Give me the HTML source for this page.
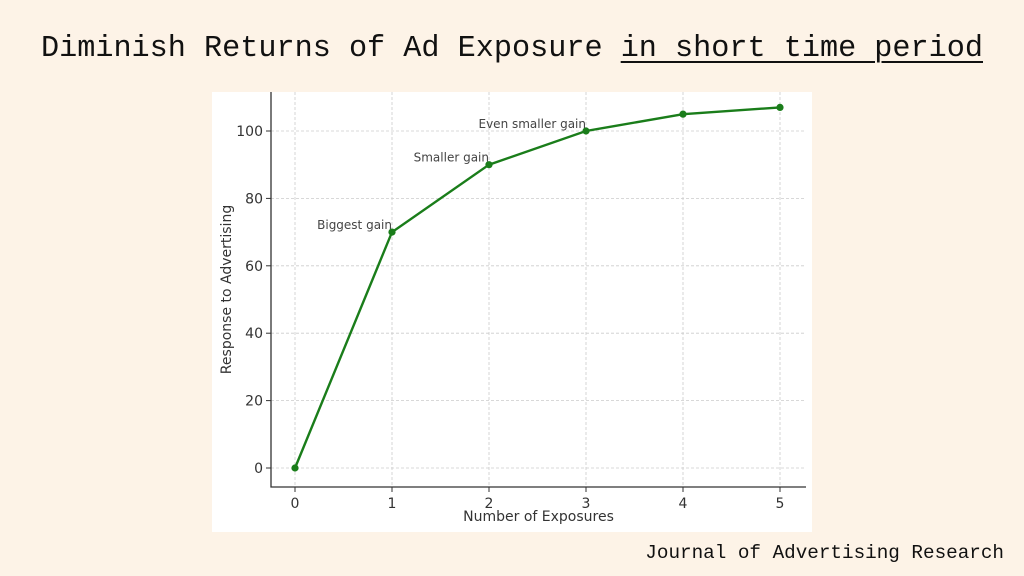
<!DOCTYPE html>
<html><head><meta charset="utf-8"><style>
body{margin:0;width:1024px;height:576px;background:#fdf3e7;overflow:hidden;position:relative;font-family:"Liberation Mono",monospace}
#title{position:absolute;left:0;width:1024px;top:32px;text-align:center;font-size:30.2px;color:#111;white-space:pre}
#title u{text-decoration-thickness:2px;text-underline-offset:5px}
#footer{position:absolute;right:20px;top:542px;font-size:19.3px;color:#111}
#chart{position:absolute;left:212px;top:92px}
</style></head><body>
<div id="title">Diminish Returns of Ad Exposure <u>in short time period</u></div>
<div id="footer">Journal of Advertising Research</div>
<svg id="chart" width="600" height="440" font-family="'DejaVu Sans',sans-serif">
<rect width="600" height="440" fill="#fff"/>
<g id="grid"></g><g id="axes"></g><g id="series"></g>
</svg>
<script>
const categories=[0,1,2,3,4,5];
const values=[0,70,90,100,105,107];
const yTicks=[0,20,40,60,80,100];
const annotations=[{i:1,text:"Biggest gain"},{i:2,text:"Smaller gain"},{i:3,text:"Even smaller gain"}];
const ox=212,oy=92;
const X=v=>295+(v-0)*97-ox;
const Y=v=>468-v*3.37-oy;
const ns="http://www.w3.org/2000/svg";
function mk(tag,attrs,parent,txt){const e=document.createElementNS(ns,tag);for(const k in attrs)e.setAttribute(k,attrs[k]);if(txt!=null)e.textContent=txt;parent.appendChild(e);return e;}
const g=document.getElementById('grid'),a=document.getElementById('axes'),s=document.getElementById('series');
const L=59,R=594,B=395,T=0;
categories.forEach(c=>{const l=mk('line',{x1:X(c),x2:X(c),y1:T,y2:B,stroke:'#ccc','stroke-dasharray':'3,2','stroke-width':0.8},g);

mk('line',{x1:X(c),x2:X(c),y1:B,y2:B+5,stroke:'#333'},a);
const tx=mk('text',{x:X(c),y:B+21,'text-anchor':'middle','font-size':14,fill:'#333'},a,String(c));
});
yTicks.forEach(v=>{const l=mk('line',{x1:L,x2:R,y1:Y(v),y2:Y(v),stroke:'#ccc','stroke-dasharray':'3,2','stroke-width':0.8},g);

mk('line',{x1:L-5,x2:L,y1:Y(v),y2:Y(v),stroke:'#333'},a);
const tx=mk('text',{x:L-8,y:Y(v)+5,'text-anchor':'end','font-size':14,fill:'#333'},a,String(v));
});
const sp=mk('path',{d:`M${L},${T}V${B}H${R}`,fill:'none',stroke:'#333','stroke-width':1.3},a);

const xt=mk('text',{x:(L+R)/2,y:B+34,'text-anchor':'middle','font-size':14,fill:'#333'},a,'Number of Exposures');

const yt=mk('text',{x:0,y:0,'text-anchor':'middle','font-size':14,fill:'#333',transform:`translate(19,${(T+B)/2}) rotate(-90)`},a,'Response to Advertising');

const line=mk('polyline',{points:categories.map((c,i)=>X(c)+','+Y(values[i])).join(' '),fill:'none',stroke:'#1a7d1a','stroke-width':2.4},s);

categories.forEach((c,i)=>{const p=mk('circle',{cx:X(c),cy:Y(values[i]),r:3.6,fill:'#1a7d1a'},s);
});
annotations.forEach(an=>{const t=mk('text',{x:X(categories[an.i]),y:Y(values[an.i])-3,'text-anchor':'end','font-size':12,fill:'#444'},s,an.text);
});
</script>
</body></html>
